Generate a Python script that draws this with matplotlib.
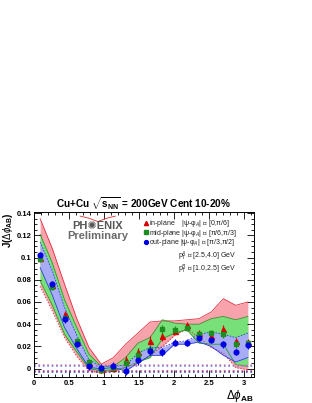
"""J(dphi) per reaction-plane bin, Cu+Cu 10-20%, with systematic bands."""
import matplotlib
matplotlib.use("Agg")
import matplotlib.pyplot as plt
from matplotlib.lines import Line2D
from matplotlib.ticker import MultipleLocator

plt.rcParams["font.family"] = ["Liberation Sans", "DejaVu Sans"]
plt.rcParams["mathtext.fontset"] = "custom"
plt.rcParams["mathtext.rm"] = "Liberation Sans"
plt.rcParams["mathtext.it"] = "Liberation Sans:italic"
plt.rcParams["mathtext.bf"] = "Liberation Sans:bold"

# bin centres in delta-phi
dphi = [0.087, 0.262, 0.436, 0.611, 0.785, 0.960, 1.134, 1.309, 1.484,
        1.658, 1.833, 2.007, 2.182, 2.356, 2.531, 2.705, 2.880, 3.054]

in_plane = [0.100, 0.075, 0.049, 0.024, 0.005, -0.0005, 0.001, 0.0075, 0.015,
            0.025, 0.029, 0.034, 0.039, 0.032, 0.029, 0.036, 0.025, 0.024]
mid_plane = [0.099, 0.0735, 0.046, 0.025, 0.006, -0.001, 0.001, 0.0055, 0.0125,
             0.0165, 0.0355, 0.035, 0.037, 0.031, 0.032, 0.031, 0.022, 0.023]
out_plane = [0.102, 0.0762, 0.0445, 0.0226, 0.0021, 0.001, 0.0027, -0.002, 0.0075,
             0.016, 0.015, 0.0235, 0.0235, 0.0277, 0.026, 0.022, 0.015, 0.021]

err_in = [0.003, 0.003, 0.003, 0.003, 0.003, 0.003, 0.003, 0.004, 0.004,
          0.004, 0.004, 0.003, 0.003, 0.003, 0.003, 0.003, 0.003, 0.003]
err_mid = [0.003, 0.003, 0.003, 0.003, 0.003, 0.003, 0.003, 0.004, 0.004,
           0.004, 0.004, 0.003, 0.003, 0.003, 0.003, 0.003, 0.003, 0.003]
err_out = [0.003, 0.003, 0.003, 0.003, 0.003, 0.003, 0.003, 0.004, 0.004,
           0.004, 0.004, 0.003, 0.003, 0.003, 0.003, 0.003, 0.003, 0.003]

# systematic bands (upper / lower edges)
red_hi = [0.135, 0.108, 0.076, 0.045, 0.019, 0.004, 0.010, 0.022, 0.032,
          0.042, 0.043, 0.043, 0.044, 0.045, 0.051, 0.063, 0.057, 0.060]
red_lo = [0.074, 0.052, 0.028, 0.011, -0.002, -0.004, -0.002, 0.001, 0.005,
          0.012, 0.020, 0.030, 0.036, 0.028, 0.019, 0.014, 0.001, -0.001]
green_hi = [0.121, 0.095, 0.062, 0.037, 0.013, 0.002, 0.002, 0.010, 0.023,
            0.028, 0.044, 0.041, 0.040, 0.040, 0.045, 0.047, 0.044, 0.047]
green_lo = [0.079, 0.057, 0.031, 0.015, 0.000, -0.002, -0.001, 0.001, 0.006,
            0.010, 0.027, 0.032, 0.035, 0.023, 0.022, 0.022, 0.004, 0.002]
blue_hi = [0.114, 0.088, 0.055, 0.030, 0.008, 0.002, 0.003, 0.003, 0.014,
           0.019, 0.019, 0.024, 0.025, 0.031, 0.033, 0.031, 0.028, 0.032]
blue_lo = [0.091, 0.066, 0.037, 0.018, 0.001, 0.000, 0.001, -0.002, 0.005,
           0.012, 0.012, 0.022, 0.022, 0.024, 0.020, 0.012, 0.006, 0.010]

# normalisation uncertainty lines near zero
norm_levels = [0.0030, 0.0021, -0.0018, -0.0029]
norm_colors = ["#f08a9a", "#7a80e8", "#e04050", "#4050d0"]

legend_labels = ["in-plane    |ψ-φ$_A$| ∈ [0,π/6]",
                 "mid-plane |ψ-φ$_A$| ∈ [π/6,π/3]",
                 "out-plane |ψ-φ$_A$| ∈ [π/3,π/2]"]

RED, GREEN, BLUE = "#d80000", "#1e8c1e", "#0000e0"

fig = plt.figure(figsize=(3.12, 4.03), dpi=100)
ax = fig.add_axes([0.109, 0.0645, 0.705, 0.4095])

ax.fill_between(dphi, red_lo, red_hi, color="#f8a2ac", lw=0)
ax.plot(dphi, red_hi, color="#e03040", lw=0.6)
ax.plot(dphi, red_lo, color="#e03040", lw=0.8, ls=":")
ax.fill_between(dphi, green_lo, green_hi, color="#78e078", lw=0)
ax.plot(dphi, green_hi, color="#2a9a2a", lw=0.6)
ax.plot(dphi, green_lo, color="#2a9a2a", lw=0.6)
ax.fill_between(dphi, blue_lo, blue_hi, color="#a8acf6", lw=0)
ax.plot(dphi, blue_hi, color="#3040e0", lw=0.6, ls="--", dashes=(2, 1.5))
ax.plot(dphi, blue_lo, color="#3040e0", lw=0.6)

for lvl, col in zip(norm_levels, norm_colors):
    ax.axhline(lvl, color=col, lw=1.2, ls=":")

ax.errorbar(dphi, in_plane, yerr=err_in, fmt="^", color=RED, ms=3.6,
            elinewidth=0.8, capsize=0)
ax.errorbar(dphi, mid_plane, yerr=err_mid, fmt="s", color=GREEN, ms=3.2,
            elinewidth=0.8, capsize=0)
ax.errorbar(dphi, out_plane, yerr=err_out, fmt="o", color=BLUE, ms=3.4,
            elinewidth=0.8, capsize=0)

ax.set_xlim(0, 3.1416)
ax.set_ylim(-0.0075, 0.141)
ax.xaxis.set_major_locator(MultipleLocator(0.5))
ax.xaxis.set_minor_locator(MultipleLocator(0.1))
ax.yaxis.set_major_locator(MultipleLocator(0.02))
ax.yaxis.set_minor_locator(MultipleLocator(0.005))
ax.set_yticks([0, 0.02, 0.04, 0.06, 0.08, 0.1, 0.12, 0.14])
ax.set_yticklabels(["0", "0.02", "0.04", "0.06", "0.08", "0.1", "0.12", "0.14"])
ax.set_xticks([0, 0.5, 1, 1.5, 2, 2.5, 3])
ax.set_xticklabels(["0", "0.5", "1", "1.5", "2", "2.5", "3"])
ax.tick_params(which="both", direction="in", top=True, right=True,
               labelsize=5.5, pad=2, width=0.6)
ax.tick_params(which="major", length=5)
ax.tick_params(which="minor", length=2.5)
for lab in ax.get_xticklabels() + ax.get_yticklabels():
    lab.set_fontweight("bold")
for spine in ax.spines.values():
    spine.set_linewidth(0.7)

ax.set_ylabel(r"J($\Delta\phi_{\mathbf{AB}}$)", loc="top", fontsize=7,
              fontweight="bold", labelpad=1)
ax.set_xlabel(r"$\Delta\phi_{\mathbf{AB}}$", loc="right", fontsize=8.5,
              labelpad=1)
ax.set_title(r"Cu+Cu $\sqrt{\mathbf{s}_{\mathbf{NN}}}$ = 200GeV Cent 10-20%",
             fontsize=7.2, fontweight="bold", pad=3)

handles = [
    Line2D([], [], marker="^", color=RED, ls="none", ms=3.0),
    Line2D([], [], marker="s", color=GREEN, ls="none", ms=2.8),
    Line2D([], [], marker="o", color=BLUE, ls="none", ms=2.8),
]
leg = ax.legend(handles, legend_labels, loc="upper left",
                bbox_to_anchor=(0.5, 0.962), frameon=False, fontsize=5,
                handlelength=0.5, handletextpad=0.15, labelspacing=-0.22,
                borderaxespad=0, borderpad=0)
for t in leg.get_texts():
    t.set_color("#222222")

ax.text(2.06, 0.1010, r"p$_T^A$ ∈ [2.5,4.0] GeV", fontsize=5,
        color="#222222", va="center")
ax.text(2.06, 0.0895, r"p$_T^B$ ∈ [1.0,2.5] GeV", fontsize=5,
        color="#222222", va="center")

# PHENIX preliminary stamp
ax.text(0.29, 0.918, "PH✺ENIX", transform=ax.transAxes, ha="center",
        va="center", fontsize=8, fontweight="bold", color="#555555")
ax.text(0.29, 0.856, "Preliminary", transform=ax.transAxes, ha="center",
        va="center", fontsize=8, fontweight="bold", color="#6a6a6a")
ax.plot([0.21, 0.25, 0.29, 0.33, 0.37], [0.975, 0.962, 0.942, 0.962, 0.975],
        transform=ax.transAxes, color="#e03030", lw=0.6)

fig.savefig("out.png", dpi=100)
